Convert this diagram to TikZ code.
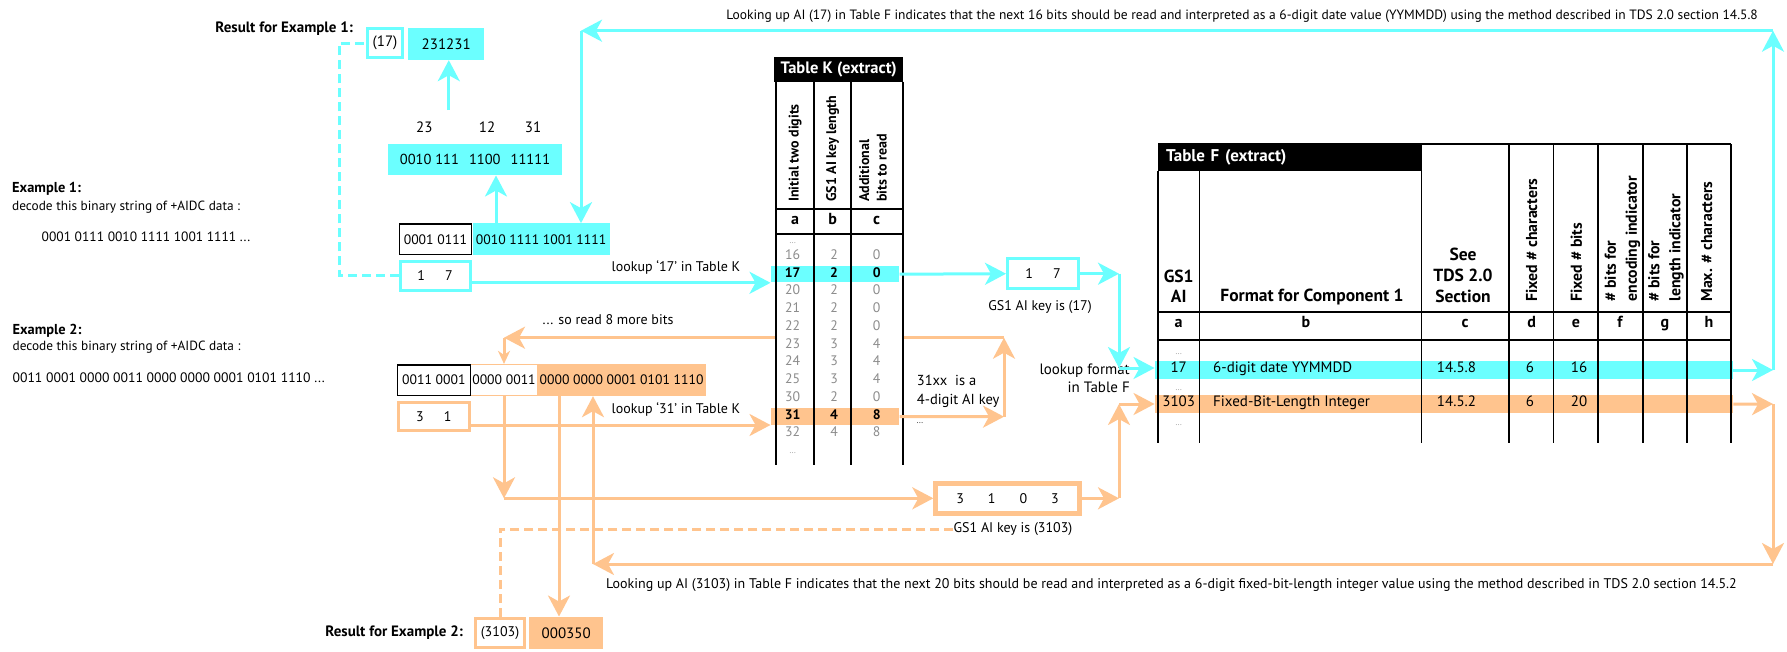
\documentclass[tikz,border=0pt]{standalone}
\usepackage{fontspec}
\setmainfont{PT Sans}
\usetikzlibrary{arrows.meta,calc}
\definecolor{cy}{HTML}{6BFFFF}
\definecolor{og}{HTML}{FFC48E}
\definecolor{gr}{HTML}{8C8C8C}
\newcommand\fz[1]{\fontsize{#1}{#1}\selectfont}
\begin{document}
\begin{tikzpicture}[x=1pt,y=-1pt,
  txt/.style={inner sep=0pt, font=\fz{13.3}, text height=0.72em, text depth=0.2em},
  lbl/.style={inner sep=0pt, font=\fz{14}, text height=0.72em, text depth=0.2em},
  bld/.style={inner sep=0pt, font=\fz{14.4}\bfseries, text height=0.72em, text depth=0.2em},
  cyfill/.style={fill=cy, inner sep=0pt, font=\fz{13.7}},
  ogfill/.style={fill=og, inner sep=0pt, font=\fz{13.7}},
  cybox/.style={draw=cy, line width=3pt, fill=white, inner sep=0pt, font=\fz{14}},
  ogbox/.style={draw=og, line width=3pt, fill=white, inner sep=0pt, font=\fz{14}},
  blkbox/.style={draw=black, line width=1.5pt, fill=white, inner sep=0pt, font=\fz{13.7}},
  cyarrow/.style={draw=cy, line width=3pt, -{Stealth[length=21pt,width=22pt,inset=6pt]}},
  ogarrow/.style={draw=og, line width=3pt, -{Stealth[length=21pt,width=22pt,inset=6pt]}},
  ogsmall/.style={draw=og, line width=3pt, -{Stealth[length=13pt,width=12pt,inset=4pt]}},
  cydash/.style={draw=cy, line width=3pt, dash pattern=on 9pt off 5pt},
  ogdash/.style={draw=og, line width=3pt, dash pattern=on 9pt off 5pt},
  tline/.style={draw=black, line width=1.6pt},
  krot/.style={rotate=90, anchor=west, inner sep=0pt, font=\fontsize{14}{17.4}\selectfont\bfseries, align=left},
  frot/.style={rotate=90, anchor=west, inner sep=0pt, font=\fontsize{15.8}{21}\selectfont\bfseries, align=left},
  kd/.style={inner sep=0pt, font=\fz{13.8}, text=gr, text height=0.72em, text depth=0.2em},
  kdh/.style={inner sep=0pt, font=\fz{13.8}\bfseries, text height=0.72em, text depth=0.2em},
  fd/.style={inner sep=0pt, font=\fz{15}, text height=0.72em, text depth=0.2em},
  dots/.style={inner sep=0pt, font=\fz{8}, text=gr},
  lett/.style={inner sep=0pt, font=\fz{16}\bfseries, text height=0.72em, text depth=0.2em},
]
\useasboundingbox (0,0) rectangle (1787,651);
\fill[white] (0,0) rectangle (1787,651);

% ---------- Example 1 text ----------
\node[bld, anchor=west] (ex1) at (12,190) {Example 1:};
\node[txt, anchor=west] (ex1d) at (12,207.5) {decode this binary string of +AIDC data :};
\node[txt, font=\fz{13.5}, anchor=west] (ex1s) at (41.5,239) {0001 0111 0010 1111 1001 1111 ...};

% ---------- Result 1 ----------
\node[bld, font=\fz{15}\bfseries, anchor=east] (r1lbl) at (353,30) {Result for Example 1:};
\node[cybox, font=\fz{15}, minimum width=35.2, minimum height=29] (r1key) at (385,43.3) {(17)};
\node[cyfill, font=\fz{15}, minimum width=76.4, minimum height=32] (r1val) at (446.2,44) {231231};

% ---------- decoded bits 1 ----------
\node[lbl, font=\fz{15}] (n23) at (424.3,130) {23};
\node[lbl, font=\fz{15}] (n12) at (487,130) {12};
\node[lbl, font=\fz{15}] (n31) at (533,130) {31};
\node[cyfill, font=\fz{14.5}, minimum width=174, minimum height=31] (dec1) at (475,159.8) {0010 111\hspace{10pt}1100\hspace{10pt}11111};
\coordinate (a1s) at (448.8,110);
\draw[cyarrow] (a1s) -- (a1s |- r1val.south);

% ---------- bits row 1 ----------
\node[cyfill, minimum width=137.2, minimum height=31.7] (b1b) at (541.1,239.2) {0010 1111 1001 1111};
\node[blkbox, minimum width=72.4, minimum height=30.2] (b1a) at (435.5,239.2) {0001 0111};
\node[cybox, minimum width=70, minimum height=28.7] (k1) at (435.1,275.8) {1\hspace{20pt}7};
\draw[cyarrow] ($(b1b.north)+(-45.1,0)$) -- ($(dec1.south)+(21,0)$);

% ---------- Example 2 text ----------
\node[bld, anchor=west] (ex2) at (12.4,331.7) {Example 2:};
\node[txt, anchor=west] (ex2d) at (12.4,348) {decode this binary string of +AIDC data :};
\node[txt, font=\fz{13.7}, anchor=west] (ex2s) at (12.4,380) {0011 0001 0000 0011 0000 0000 0001 0101 1110 ...};

% ---------- bits row 2 ----------
\node[ogfill, minimum width=168.7, minimum height=32] (b2c) at (621.6,380) {0000 0000 0001 0101 1110};
\node[draw=og, line width=1.2pt, fill=white, inner sep=0pt, font=\fz{13.7}, minimum width=66.7, minimum height=31] (b2b) at (504,380) {0000 0011};
\node[blkbox, minimum width=73, minimum height=30.5] (b2a) at (433.8,380) {0011 0001};
\node[ogbox, minimum width=70.6, minimum height=28.3] (k2) at (433.8,416.7) {3\hspace{20pt}1};

% ---------- labels ----------
\node[lbl] (l17) at (676,268.5) {lookup ‘17’ in Table K};
\node[lbl] (l31) at (676,411) {lookup ‘31’ in Table K};
\node[lbl] (lread) at (608,321.7) {... so read 8 more bits};
\node[lbl] (lkey17) at (1040,308.3) {GS1 AI key is (17)};
\node[lbl, align=right, anchor=east, font=\fontsize{15}{18.3}\selectfont] (lfmt) at (1130,390) {lookup format\\in Table F};
\node[lbl, align=left, anchor=north west, font=\fontsize{14.5}{19.3}\selectfont, text height=, text depth=] (l31xx) at (916.7,374.5) {31xx\ \ is a\\4-digit AI key\\{\fz{8}...}};
\node[lbl] (lkey3103) at (1013,529.5) {GS1 AI key is (3103)};
\node[txt, font=\fz{13.5}, anchor=east] (ltop) at (1758,16.7) {Looking up AI (17) in Table F indicates that the next 16 bits should be read and interpreted as a 6-digit date value (YYMMDD) using the method described in TDS 2.0 section 14.5.8};
\node[txt, font=\fz{14}, anchor=east] (lbot) at (1737,585.7) {Looking up AI (3103) in Table F indicates that the next 20 bits should be read and interpreted as a 6-digit fixed-bit-length integer value using the method described in TDS 2.0 section 14.5.2};

% ---------- keys ----------
\node[cybox, minimum width=71, minimum height=29.7] (k1b) at (1043,273.7) {1\hspace{20pt}7};
\node[draw=og, line width=5pt, fill=white, inner sep=0pt, font=\fz{14}, minimum width=143.4, minimum height=30.3] (k2b) at (1007.5,498.3) {3\hspace{24pt}1\hspace{24pt}0\hspace{24pt}3};

% ---------- result 2 ----------
\node[bld, font=\fz{15}\bfseries, anchor=east] (r2lbl) at (463,634) {Result for Example 2:};
\node[ogbox, minimum width=48.4, minimum height=29.6] (r2key) at (500,633) {(3103)};
\node[ogfill, font=\fz{15}, minimum width=74.3, minimum height=32.6] (r2val) at (566.2,633) {000350};

% ---------- orange path behind Table K ----------
\coordinate (c5) at (1004,416.7);
\coordinate (c6) at (1004,337.7);
\coordinate (c7) at (504,337.7);
\draw[ogarrow] (c6) -- (c7);

% ---------- Table K ----------
\fill[white] (776,81.7) rectangle (902.7,465);
\node[fill=cy, minimum width=128.6, minimum height=16.3, inner sep=0pt] (kb17) at (835,274.2) {};
\node[fill=og, minimum width=128.6, minimum height=17, inner sep=0pt] (kb31) at (835,416.5) {};
\draw[tline] (776,81.7) -- (776,465) (814,81.7) -- (814,465) (850.7,81.7) -- (850.7,465) (902.7,81.7) -- (902.7,465)
  (776,208.7) -- (902.7,208.7) (776,234) -- (902.7,234);
\node[fill=black, text=white, font=\fz{16.5}\bfseries, minimum width=129, minimum height=25, inner sep=0pt] (tk) at (838.7,69.2) {Table K (extract)};
\node[krot] (kha) at (795,202) {Initial two digits};
\node[krot] (khb) at (832.7,202) {GS1 AI key length};
\node[krot] (khc) at (873,202) {Additional\\bits to read};
\node[lett] (kla) at (795,222) {a};
\node[lett] (klb) at (832.7,222) {b};
\node[lett] (klc) at (876.7,222) {c};
\node[dots] (kdt) at (792.7,243) {...};
\node[dots] (kdb) at (792.7,453) {...};
\foreach \a/\b/\c/\y in {16/2/0/256.7, 20/2/0/292.2, 21/2/0/310, 22/2/0/327.7, 23/3/4/345.5, 24/3/4/363.2, 25/3/4/381, 30/2/0/398.7, 32/4/8/434.2}{
  \node[kd] (ka\a) at (792.7,\y) {\a};
  \node[kd] (kb\a) at (834,\y) {\b};
  \node[kd] (kc\a) at (876.7,\y) {\c};
}
\node[kdh] (ka17) at (792.7,274.4) {17};
\node[kdh] (kbb17) at (834,274.4) {2};
\node[kdh] (kc17) at (876.7,274.4) {0};
\node[kdh] (ka31) at (792.7,416.5) {31};
\node[kdh] (kbb31) at (834,416.5) {4};
\node[kdh] (kc31) at (876.7,416.5) {8};

% ---------- Table F ----------
\node[fill=cy, minimum width=578.3, minimum height=18.6, inner sep=0pt] (fb17) at (1443.9,370) {};
\node[fill=og, minimum width=578.3, minimum height=18.3, inner sep=0pt] (fb31) at (1443.9,404.2) {};
\draw[tline] (1158,170.7) -- (1158,443.3) (1199.4,170.7) -- (1199.4,443.3)
  (1421.3,144) -- (1421.3,443.3) (1509,144) -- (1509,443.3) (1553.3,144) -- (1553.3,443.3)
  (1598,144) -- (1598,443.3) (1642.7,144) -- (1642.7,443.3) (1687,144) -- (1687,443.3) (1731,144) -- (1731,443.3)
  (1421.3,144) -- (1731,144) (1158,311.7) -- (1731,311.7) (1158,340) -- (1731,340);
\node[fill=black, text=white, font=\fz{17}\bfseries, minimum height=27.4, text width=247pt, inner xsep=8pt, inner ysep=0pt, align=left] (tf) at (1289.5,157) {Table F (extract)};
\node[inner sep=0pt, font=\fontsize{17.5}{20}\selectfont\bfseries, align=center] (fha) at (1178.7,286.7) {GS1\\AI};
\node[inner sep=0pt, font=\fz{17.5}\bfseries] (fhb) at (1312,296.7) {Format for Component 1};
\node[inner sep=0pt, font=\fontsize{17.5}{21.3}\selectfont\bfseries, align=center] (fhc) at (1463,275.3) {See\\TDS 2.0\\Section};
\node[frot] (fhd) at (1531.6,301.7) {Fixed \# characters};
\node[frot] (fhe) at (1576.3,301.7) {Fixed \# bits};
\node[frot] (fhf) at (1622.5,301.7) {\# bits for\\encoding indicator};
\node[frot] (fhg) at (1666,301.7) {\# bits for\\length indicator};
\node[frot] (fhh) at (1706.7,301.7) {Max. \# characters};
\foreach \l/\x in {a/1178.7, b/1306, c/1465, d/1531.6, e/1576, f/1620, g/1665, h/1709}{
  \node[lett] (fl\l) at (\x,325) {\l};
}
\node[dots] (fd1) at (1178.7,354) {...};
\node[dots] (fd2) at (1178.7,390) {...};
\node[dots] (fd3) at (1178.7,425) {...};
\node[fd] (f17a) at (1178.7,370) {17};
\node[fd, anchor=west] (f17b) at (1213,370) {6-digit date YYMMDD};
\node[fd] (f17c) at (1456.5,370) {14.5.8};
\node[fd] (f17d) at (1530,370) {6};
\node[fd] (f17e) at (1579,370) {16};
\node[fd] (f31a) at (1178.7,404) {3103};
\node[fd, anchor=west] (f31b) at (1213,404) {Fixed-Bit-Length Integer};
\node[fd] (f31c) at (1456.5,404) {14.5.2};
\node[fd] (f31d) at (1530,404) {6};
\node[fd] (f31e) at (1579,404) {20};

% ---------- connectors ----------
\coordinate (p17) at ($(k1.east)+(0,7)$);
\draw[cyarrow] (p17) -- (p17 -| kb17.west);
\coordinate (p31) at ($(k2.east)+(0,8.3)$);
\draw[ogarrow] (p31) -- (p31 -| kb31.west);
\draw[cyarrow] (kb17.east) -- (k1b.west);
\coordinate (c1) at (1119,273.7);
\coordinate (c2) at (1119,368);
\draw[cyarrow] (k1b.east) -- (c1);
\draw[cyarrow] (c1) -- (c2);
\draw[cyarrow] (c2) -- (c2 -| fb17.west);
\draw[ogarrow] (kb31.east) -- (c5);
\draw[ogarrow] (c5) -- (c6);
\draw[ogsmall] (c7) -- (b2b.north);
\coordinate (c3) at (1119,498.3);
\coordinate (c4) at (1119,404);
\draw[ogarrow] (k2b.east) -- (c3);
\draw[ogarrow] (c3) -- (c4);
\draw[ogarrow] (c4) -- (c4 -| fb31.west);
\coordinate (c8) at (1773,370);
\coordinate (c9) at (1773,30.7);
\coordinate (c10) at (581,30.7);
\draw[cyarrow] (fb17.east) -- (c8);
\draw[cyarrow] (c8) -- (c9);
\draw[cyarrow] (c9) -- (c10);
\draw[cyarrow] (c10) -- (c10 |- b1b.north);
\coordinate (c11) at (1773,404);
\coordinate (c12) at (1773,564);
\coordinate (c13) at (593,564);
\draw[ogarrow] (fb31.east) -- (c11);
\draw[ogarrow] (c11) -- (c12);
\draw[ogarrow] (c12) -- (c13);
\draw[ogarrow] (c13) -- (c13 |- b2c.south);
\coordinate (c14) at (504,498.3);
\draw[ogarrow] (b2b.south) -- (c14);
\draw[ogarrow] (c14) -- (k2b.west);
\draw[ogarrow] ($(b2c.south)+(-62.6,0)$) -- ($(r2val.north)+(-7.2,0)$);
\draw[cydash] (k1.west) -- ++(-59.6,0) |- (r1key.west);
\draw[ogdash] (lkey3103.west) -| (r2key.north);
\end{tikzpicture}
\end{document}
